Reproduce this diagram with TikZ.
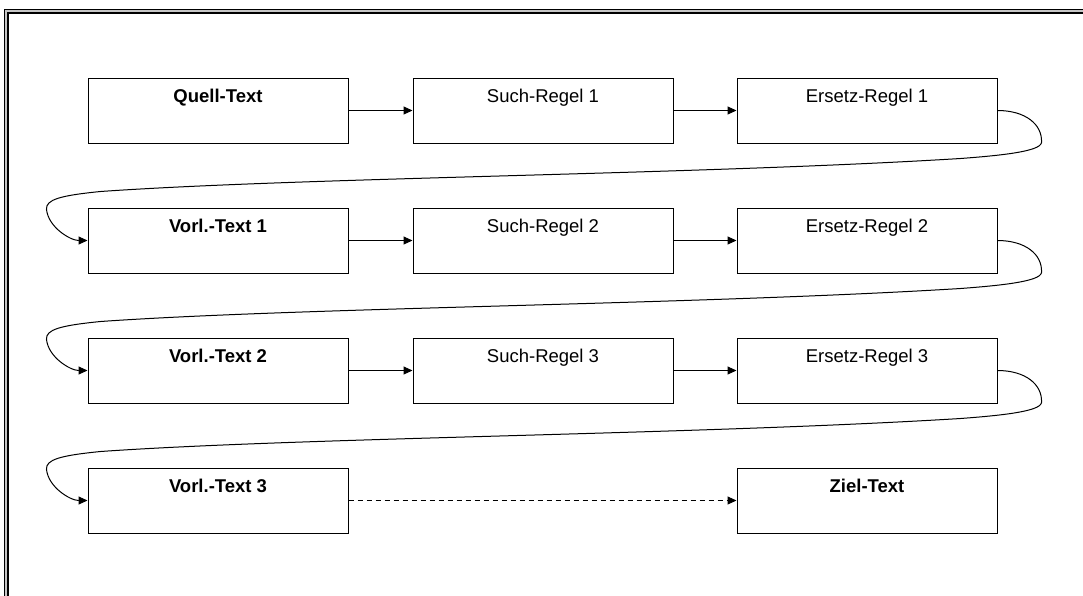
\documentclass[tikz,border=0pt]{standalone}
\usepackage{fontspec}
\setmainfont{Liberation Sans}
\usetikzlibrary{arrows.meta}

\tikzset{
  box/.style={draw=black, line width=1pt, minimum width=260pt, minimum height=65pt, inner sep=0pt},
  caption/.style={font=\fontsize{18.5}{22}\selectfont, anchor=base, yshift=-25pt},
  arr/.style={draw=black, line width=1pt, -{Triangle[length=9pt,width=8pt]}},
  dasharr/.style={arr, dash pattern=on 5pt off 4pt},
}

\begin{document}
\begin{tikzpicture}[x=1pt, y=-1pt]
  \useasboundingbox (0,0) rectangle (1083,595);
  \clip (0,0) rectangle (1083,595);

  % double page frame
  \fill[gray!45] (4,9) rectangle (1100,610);
  \draw[line width=1pt] (4.5,9.5) rectangle (1100,610);
  \draw[line width=1.6pt, fill=white] (8,13) rectangle (1100,610);

  % boxes: row 1
  \node[box, label={[caption]north:\textbf{Quell-Text}}] (q)  at (218,110.5) {};
  \node[box, label={[caption]north:Such-Regel 1}]        (s1) at (543,110.5) {};
  \node[box, label={[caption]north:Ersetz-Regel 1}]      (e1) at (867,110.5) {};
  % row 2
  \node[box, label={[caption]north:\textbf{Vorl.-Text 1}}] (v1) at (218,240.5) {};
  \node[box, label={[caption]north:Such-Regel 2}]          (s2) at (543,240.5) {};
  \node[box, label={[caption]north:Ersetz-Regel 2}]        (e2) at (867,240.5) {};
  % row 3
  \node[box, label={[caption]north:\textbf{Vorl.-Text 2}}] (v2) at (218,370.5) {};
  \node[box, label={[caption]north:Such-Regel 3}]          (s3) at (543,370.5) {};
  \node[box, label={[caption]north:Ersetz-Regel 3}]        (e3) at (867,370.5) {};
  % row 4
  \node[box, label={[caption]north:\textbf{Vorl.-Text 3}}] (v3) at (218,500.5) {};
  \node[box, label={[caption]north:\textbf{Ziel-Text}}]    (z)  at (867,500.5) {};

  % straight connectors
  \draw[arr] (q.east)  -- (s1.west);
  \draw[arr] (s1.east) -- (e1.west);
  \draw[arr] (v1.east) -- (s2.west);
  \draw[arr] (s2.east) -- (e2.west);
  \draw[arr] (v2.east) -- (s3.west);
  \draw[arr] (s3.east) -- (e3.west);
  \draw[dasharr] (v3.east) -- (z.west);

  % curved return connectors from the end of one row to the start of the next
  \foreach \a/\b in {e1/v1, e2/v2, e3/v3}{
    \begin{scope}[shift={(\a.east)}]
      \draw[arr] (\a.east) .. controls (28,0) and (45,14) .. (44,32)
        .. controls (43,41) and (3,45) .. (-37,48)
        .. controls (-297,64) and (-697,67) .. (-897,81)
        .. controls (-937,85) and (-952,89) .. (-951,99)
        .. controls (-949,117) and (-927,130) .. (\b.west);
    \end{scope}
  }
\end{tikzpicture}
\end{document}
